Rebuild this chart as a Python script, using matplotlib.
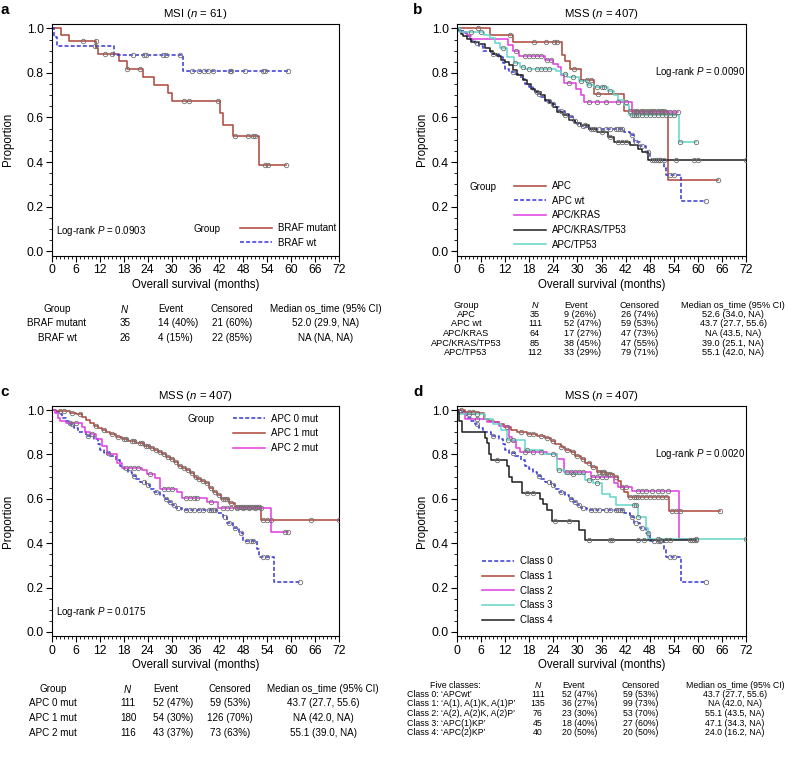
import numpy as np
import matplotlib
matplotlib.use('Agg')
import matplotlib.pyplot as plt
from matplotlib.ticker import MultipleLocator, FormatStrFormatter

plt.rcParams['font.family'] = ['Liberation Sans', 'DejaVu Sans']
plt.rcParams['mathtext.fontset'] = 'custom'
plt.rcParams['mathtext.it'] = 'Liberation Sans:italic'
plt.rcParams['mathtext.rm'] = 'Liberation Sans'

RED = '#ad4439'
BLUE = '#3535d5'
MAG = '#e03ce0'
CYAN = '#62d6c8'
BLACK = '#1e1e1e'

# ---- panel a : MSI
braf_mut_t = [2.3, 4.2, 11.1, 11.5, 16.8, 18.8, 22.9, 25.7, 29.2, 30.0, 42.1, 42.8, 45.5, 51.9]
braf_mut_s = [0.971, 0.943, 0.914, 0.886, 0.853, 0.817, 0.783, 0.745, 0.708, 0.672, 0.621, 0.566, 0.515, 0.386]
braf_mut_c = [7.9, 11.0, 13.2, 15.0, 18.9, 22.1, 33.2, 34.4, 41.7, 45.9, 49.2, 50.3, 50.9, 53.5, 54.2, 58.6]
braf_wt_t = [0.4, 1.2, 15.6, 32.8]
braf_wt_s = [0.962, 0.923, 0.88, 0.81]
braf_wt_c = [10.8, 20.3, 23.2, 23.6, 27.9, 28.5, 32.1, 35.0, 37.0, 38.1, 39.2, 40.5, 44.6, 45.0, 48.4,
             53.0, 53.4, 59.2]

# ---- APC wt (= APC 0 mut = Class 0)
apcwt_t = [1.0, 2.0, 2.5, 3.5, 4.5, 5.5, 6.5, 8.5, 10.5, 11.5, 12.0, 13.0, 14.5, 16.0, 17.0, 18.0, 19.0,
           20.0, 21.0, 22.0, 23.5, 24.5, 25.5, 27.0, 28.0, 29.0, 30.0, 31.0, 32.5, 41.5, 43.0, 44.0, 45.5,
           47.0, 48.0, 51.5, 52.0, 55.8]
apcwt_s = [0.99, 0.98, 0.965, 0.95, 0.935, 0.92, 0.9, 0.885, 0.87, 0.845, 0.82, 0.805, 0.795, 0.775, 0.75,
           0.735, 0.72, 0.705, 0.69, 0.675, 0.66, 0.645, 0.63, 0.615, 0.6, 0.585, 0.57, 0.56, 0.55, 0.535,
           0.52, 0.49, 0.47, 0.445, 0.41, 0.375, 0.34, 0.225]
apcwt_c = [5.0, 9.0, 14.0, 20.5, 23.0, 24.0, 26.0, 28.5, 29.5, 30.5, 31.5, 33.5, 34.5, 35.5, 37.0, 38.0,
           39.5, 40.0, 40.5, 41.0, 43.5, 44.5, 46.0, 47.5, 49.0, 50.0, 50.5, 53.0, 54.0, 62.1]

# ---- panel b : MSS by group
apc_t = [8.3, 14.0, 26.2, 26.8, 28.2, 31.0, 34.2, 41.5, 52.6]
apc_s = [0.971, 0.941, 0.882, 0.853, 0.82, 0.77, 0.706, 0.628, 0.318]
apc_c = [5.2, 13.3, 19.2, 22.1, 24.1, 25.0, 29.1, 32.5, 33.3, 35.1, 43.0, 44.1, 44.8, 45.8, 46.6, 47.5,
         48.3, 49.2, 50.0, 50.8, 51.6, 65.1]
kras_t = [0.8, 2.5, 3.3, 12.7, 14.0, 15.5, 22.0, 24.0, 25.2, 26.0, 26.7, 29.6, 31.0, 31.6, 43.7]
kras_s = [0.985, 0.969, 0.953, 0.924, 0.9, 0.874, 0.858, 0.842, 0.825, 0.79, 0.755, 0.73, 0.7, 0.67, 0.625]
kras_c = [14.8, 17.0, 18.0, 19.0, 20.0, 21.0, 22.5, 23.3, 28.0, 33.0, 35.0, 37.0, 40.0, 42.0, 44.5, 46.0,
          47.0, 48.0, 49.0, 50.0, 51.0, 52.0, 53.0, 54.0, 55.0]
krtp_t = [0.5, 1.0, 1.5, 2.5, 3.5, 5.5, 7.0, 8.3, 9.0, 10.0, 11.0, 12.0, 13.0, 14.0, 15.0, 16.5, 17.5,
          18.5, 19.5, 21.0, 22.0, 23.0, 24.0, 25.0, 26.5, 28.0, 29.5, 31.0, 33.0, 35.0, 37.5, 39.0, 43.0,
          45.0, 46.0, 47.5]
krtp_s = [0.988, 0.976, 0.965, 0.953, 0.94, 0.93, 0.91, 0.9, 0.887, 0.875, 0.86, 0.85, 0.835, 0.815, 0.79,
          0.77, 0.75, 0.73, 0.715, 0.7, 0.68, 0.663, 0.645, 0.625, 0.61, 0.59, 0.575, 0.565, 0.55, 0.535,
          0.513, 0.49, 0.475, 0.46, 0.445, 0.41]
krtp_c = [20.0, 27.0, 32.0, 34.0, 36.0, 38.0, 40.0, 41.0, 42.0, 48.5, 49.5, 50.5, 51.5, 54.5, 59.0, 60.0, 72.0]
tp53_t = [0.8, 6.7, 8.3, 9.5, 10.8, 12.5, 14.2, 15.8, 17.0, 24.6, 25.8, 27.5, 30.4, 32.5, 34.1, 37.5, 39.1,
          40.0, 41.6, 42.8, 55.4]
tp53_s = [0.985, 0.97, 0.955, 0.935, 0.91, 0.87, 0.843, 0.828, 0.82, 0.81, 0.795, 0.78, 0.765, 0.745, 0.735,
          0.72, 0.7, 0.68, 0.655, 0.61, 0.49]
tp53_c = [3.5, 6.0, 11.5, 14.5, 16.5, 18.0, 20.0, 21.0, 22.0, 23.0, 27.0, 29.0, 31.0, 33.0, 35.0, 36.0,
          36.5, 38.0, 43.5, 44.0, 44.5, 45.0, 46.0, 47.0, 48.0, 49.0, 50.0, 51.0, 52.0, 53.0, 54.0, 55.5, 59.5]

# ---- panel c : APC mutation count
apc1_t = [1.0, 4.5, 6.0, 7.5, 8.5, 9.5, 10.5, 11.5, 12.5, 13.5, 14.5, 16.0, 17.5, 19.0, 21.0, 23.0, 24.5,
          25.5, 26.5, 27.5, 28.5, 29.5, 30.5, 31.5, 32.5, 33.5, 34.5, 35.5, 36.5, 37.5, 38.5, 39.5, 40.5,
          41.5, 42.5, 44.5, 46.0, 52.5]
apc1_s = [0.994, 0.988, 0.98, 0.97, 0.955, 0.94, 0.93, 0.92, 0.91, 0.9, 0.89, 0.88, 0.87, 0.86, 0.85, 0.84,
          0.83, 0.82, 0.81, 0.8, 0.79, 0.78, 0.765, 0.75, 0.74, 0.73, 0.715, 0.7, 0.69, 0.68, 0.67, 0.65,
          0.63, 0.615, 0.6, 0.58, 0.565, 0.505]
apc1_c = [2.0, 3.0, 5.0, 7.0, 11.0, 13.0, 15.0, 16.5, 18.0, 18.5, 20.0, 20.5, 22.0, 22.5, 23.5, 24.0, 25.0,
          26.0, 27.0, 28.0, 29.0, 30.0, 31.0, 32.0, 33.0, 34.0, 35.0, 36.0, 37.0, 38.0, 39.0, 40.0, 41.0,
          42.0, 43.0, 43.5, 44.0, 45.0, 46.5, 47.0, 47.5, 48.0, 48.5, 49.0, 49.5, 50.0, 50.5, 51.0, 51.5,
          52.0, 53.0, 54.0, 55.0, 65.0, 72.0]
apc2_t = [0.8, 1.5, 2.1, 3.5, 7.5, 8.3, 9.6, 11.0, 12.5, 13.8, 16.3, 17.5, 22.5, 23.8, 25.9, 27.1, 31.3,
          32.5, 38.8, 41.7, 55.0]
apc2_s = [0.985, 0.965, 0.95, 0.94, 0.925, 0.9, 0.89, 0.87, 0.84, 0.8, 0.76, 0.74, 0.73, 0.71, 0.695, 0.645,
          0.63, 0.605, 0.585, 0.56, 0.45]
apc2_c = [4.5, 6.0, 10.0, 18.5, 19.5, 20.5, 21.5, 24.5, 28.0, 29.0, 30.0, 33.5, 34.5, 35.5, 36.5, 40.0,
          43.0, 44.0, 45.0, 46.5, 48.0, 49.5, 51.0, 52.5, 58.5, 59.2]

# ---- panel d : five classes
cl1_t = [2.0, 5.4, 6.7, 8.0, 9.2, 10.5, 11.7, 13.5, 15.0, 17.5, 20.0, 22.0, 23.3, 24.5, 25.8, 27.0, 28.3,
         29.5, 30.8, 32.0, 33.3, 35.0, 37.0, 39.1, 40.0, 40.8, 41.7, 42.5, 52.7]
cl1_s = [0.993, 0.985, 0.96, 0.952, 0.945, 0.935, 0.925, 0.912, 0.9, 0.89, 0.885, 0.872, 0.86, 0.848, 0.835,
         0.822, 0.81, 0.795, 0.78, 0.762, 0.745, 0.72, 0.71, 0.7, 0.68, 0.655, 0.63, 0.61, 0.545]
cl1_c = [1.0, 3.0, 4.0, 12.5, 16.0, 18.0, 19.0, 21.0, 22.5, 24.0, 26.0, 27.5, 29.0, 30.0, 31.5, 33.0, 34.0,
         35.5, 36.0, 36.5, 37.5, 38.0, 39.5, 43.0, 44.0, 44.5, 45.0, 46.0, 47.0, 48.0, 49.0, 50.0, 51.0,
         52.0, 53.5, 54.5, 55.5, 65.4]
cl2_t = [0.5, 2.0, 7.5, 10.5, 12.9, 13.6, 14.6, 15.8, 22.5, 25.0, 26.6, 33.3, 39.1, 40.0, 43.7, 55.4]
cl2_s = [0.985, 0.96, 0.945, 0.93, 0.88, 0.86, 0.83, 0.81, 0.8, 0.78, 0.72, 0.7, 0.67, 0.655, 0.635, 0.42]
cl2_c = [5.0, 17.0, 19.0, 21.0, 24.0, 27.5, 28.5, 29.5, 30.5, 31.5, 34.0, 35.0, 36.0, 37.0, 41.0, 42.0,
         45.0, 46.0, 47.0, 48.5, 50.0, 51.0, 52.5, 59.5]
cl3_t = [0.5, 7.0, 9.0, 11.0, 12.5, 17.0, 21.5, 25.0, 27.0, 32.0, 34.0, 36.0, 38.0, 39.5, 45.0, 47.0, 47.5]
cl3_s = [0.98, 0.96, 0.935, 0.91, 0.865, 0.82, 0.8, 0.73, 0.71, 0.685, 0.67, 0.62, 0.61, 0.57, 0.52, 0.47,
         0.42]
cl3_c = [3.0, 5.0, 12.8, 14.0, 17.5, 25.5, 29.0, 33.0, 35.0, 44.0, 44.5, 45.0, 50.0, 72.0]
cl4_t = [0.5, 1.3, 7.0, 7.5, 8.0, 8.5, 12.5, 13.0, 13.6, 16.2, 20.7, 21.5, 22.4, 23.7, 30.4, 32.0]
cl4_s = [0.95, 0.9, 0.875, 0.85, 0.8, 0.775, 0.75, 0.7, 0.675, 0.625, 0.6, 0.575, 0.55, 0.5, 0.46, 0.415]
cl4_c = [10.0, 17.5, 19.0, 24.5, 28.0, 33.0, 38.0, 38.5, 45.0, 46.5, 50.5, 52.0, 53.0, 58.0, 58.5, 59.0, 59.5]

# ---- tables
tab_a_groups = ['BRAF mutant', 'BRAF wt']
tab_a_n = ['35', '26']
tab_a_event = ['14 (40%)', '4 (15%)']
tab_a_cens = ['21 (60%)', '22 (85%)']
tab_a_med = ['52.0 (29.9, NA)', 'NA (NA, NA)']

tab_b_groups = ['APC', 'APC wt', 'APC/KRAS', 'APC/KRAS/TP53', 'APC/TP53']
tab_b_n = ['35', '111', '64', '85', '112']
tab_b_event = ['9 (26%)', '52 (47%)', '17 (27%)', '38 (45%)', '33 (29%)']
tab_b_cens = ['26 (74%)', '59 (53%)', '47 (73%)', '47 (55%)', '79 (71%)']
tab_b_med = ['52.6 (34.0, NA)', '43.7 (27.7, 55.6)', 'NA (43.5, NA)', '39.0 (25.1, NA)', '55.1 (42.0, NA)']

tab_c_groups = ['APC 0 mut', 'APC 1 mut', 'APC 2 mut']
tab_c_n = ['111', '180', '116']
tab_c_event = ['52 (47%)', '54 (30%)', '43 (37%)']
tab_c_cens = ['59 (53%)', '126 (70%)', '73 (63%)']
tab_c_med = ['43.7 (27.7, 55.6)', 'NA (42.0, NA)', '55.1 (39.0, NA)']

tab_d_groups = ["Class 0: \u2018APCwt\u2019", "Class 1: \u2018A(1), A(1)K, A(1)P\u2019",
                "Class 2: \u2018A(2), A(2)K, A(2)P\u2019", "Class 3: \u2018APC(1)KP\u2019",
                "Class 4: \u2018APC(2)KP\u2019"]
tab_d_n = ['111', '135', '76', '45', '40']
tab_d_event = ['52 (47%)', '36 (27%)', '23 (30%)', '18 (40%)', '20 (50%)']
tab_d_cens = ['59 (53%)', '99 (73%)', '53 (70%)', '27 (60%)', '20 (50%)']
tab_d_med = ['43.7 (27.7, 55.6)', 'NA (42.0, NA)', '55.1 (43.5, NA)', '47.1 (34.3, NA)', '24.0 (16.2, NA)']

W, H = 788, 758
fig = plt.figure(figsize=(W / 100, H / 100), dpi=100)


def px(x, y):
    return x / W, 1 - y / H


def km(ax, t, s, cens, end, color, label, dashed=False):
    times = np.r_[0, t, end]
    surv = np.r_[1, s, s[-1]]
    ls = (0, (2.6, 1.4)) if dashed else '-'
    ax.step(times, surv, where='post', color=color, lw=1.1, ls=ls, label=label)
    idx = np.searchsorted(times[:-1], cens, side='right') - 1
    ax.plot(cens, surv[idx], 'o', ms=3.2, mfc='none', mec='#707070', mew=0.6, zorder=3)


def make_axes(left, top_px, bot_px, width):
    ax = fig.add_axes([left / W, 1 - bot_px / H, width / W, (bot_px - top_px) / H])
    ax.set_xlim(0, 72)
    ax.set_ylim(-0.02, 1.02)
    ax.xaxis.set_major_locator(MultipleLocator(6))
    ax.xaxis.set_minor_locator(MultipleLocator(1))
    ax.yaxis.set_major_locator(MultipleLocator(0.2))
    ax.yaxis.set_minor_locator(MultipleLocator(0.05))
    ax.yaxis.set_major_formatter(FormatStrFormatter('%.1f'))
    ax.tick_params(which='major', length=4, width=0.8, labelsize=8.8, pad=2)
    ax.tick_params(which='minor', length=2, width=0.6)
    for sp in ax.spines.values():
        sp.set_linewidth(0.8)
    return ax


def decorate(cx, top_px, bot_px, ylab_x, letter, lx, ly, title):
    fig.text(*px(cx, top_px - 10), title, ha='center', va='center', fontsize=8.2)
    fig.text(*px(cx, bot_px + 29), 'Overall survival (months)', ha='center', va='center', fontsize=8.3)
    fig.text(*px(ylab_x, (top_px + bot_px) / 2), 'Proportion', rotation=90, ha='center', va='center',
             fontsize=8.3)
    fig.text(*px(lx, ly), letter, fontsize=11, fontweight='bold', ha='center', va='center')


def table(gx, nx, ex, cx, mx, ys, header, rows, fs, group_left=None):
    fig.text(*px(gx, ys[0]), header, ha='center', va='center', fontsize=fs)
    fig.text(*px(nx, ys[0]), '$N$', ha='center', va='center', fontsize=fs)
    fig.text(*px(ex, ys[0]), 'Event', ha='left', va='center', fontsize=fs)
    fig.text(*px(cx, ys[0]), 'Censored', ha='center', va='center', fontsize=fs)
    fig.text(*px(mx, ys[0]), 'Median os_time (95% CI)', ha='center', va='center', fontsize=fs)
    groups, ns, evs, cens, meds = rows
    for i, y in enumerate(ys[1:]):
        if group_left is None:
            fig.text(*px(gx, y), groups[i], ha='center', va='center', fontsize=fs)
        else:
            fig.text(*px(group_left, y), groups[i], ha='left', va='center', fontsize=fs)
        fig.text(*px(nx, y), ns[i], ha='center', va='center', fontsize=fs)
        fig.text(*px(ex, y), evs[i], ha='left', va='center', fontsize=fs)
        fig.text(*px(cx, y), cens[i], ha='center', va='center', fontsize=fs)
        fig.text(*px(mx, y), meds[i], ha='center', va='center', fontsize=fs)


leg_kw = dict(frameon=False, fontsize=7.0, handlelength=3.3, handletextpad=0.6, labelspacing=0.48,
              borderpad=0, borderaxespad=0, loc='upper left')
TXT = 7.0

# ---------- a
ax = make_axes(52, 24, 255.5, 287)
km(ax, braf_mut_t, braf_mut_s, braf_mut_c, 58.6, RED, 'BRAF mutant')
km(ax, braf_wt_t, braf_wt_s, braf_wt_c, 59.2, BLUE, 'BRAF wt', dashed=True)
ax.legend(bbox_to_anchor=(0.655, 0.14), **leg_kw)
fig.text(*px(193, 229), 'Group', ha='left', va='center', fontsize=TXT)
fig.text(*px(56, 231), 'Log-rank $P$ = 0.0903', ha='left', va='center', fontsize=TXT)
decorate(195.5, 24, 255.5, 8, 'a', 4.5, 10, 'MSI ($n$ = 61)')
table(57, 125, 158, 232, 326, [309, 323, 338], 'Group',
      [tab_a_groups, tab_a_n, tab_a_event, tab_a_cens, tab_a_med], 7.1)

# ---------- b
ax = make_axes(457, 24, 255.5, 289)
km(ax, apc_t, apc_s, apc_c, 65.1, RED, 'APC')
km(ax, apcwt_t, apcwt_s, apcwt_c, 62.1, BLUE, 'APC wt', dashed=True)
km(ax, kras_t, kras_s, kras_c, 55.0, MAG, 'APC/KRAS')
km(ax, krtp_t, krtp_s, krtp_c, 72.0, BLACK, 'APC/KRAS/TP53')
km(ax, tp53_t, tp53_s, tp53_c, 59.5, CYAN, 'APC/TP53')
ax.legend(bbox_to_anchor=(0.197, 0.322), **leg_kw)
fig.text(*px(470, 187), 'Group', ha='left', va='center', fontsize=TXT)
fig.text(*px(655, 72), 'Log-rank $P$ = 0.0090', ha='left', va='center', fontsize=TXT)
decorate(601.5, 24, 255.5, 422, 'b', 418, 10, 'MSS ($n$ = 407)')
table(466, 535, 564, 640, 733, [305, 314.5, 324, 333.5, 343, 352.5], 'Group',
      [tab_b_groups, tab_b_n, tab_b_event, tab_b_cens, tab_b_med], 6.6)

# ---------- c
ax = make_axes(52, 405.6, 636.4, 287)
km(ax, apcwt_t, apcwt_s, apcwt_c, 62.1, BLUE, 'APC 0 mut', dashed=True)
km(ax, apc1_t, apc1_s, apc1_c, 72.0, RED, 'APC 1 mut')
km(ax, apc2_t, apc2_s, apc2_c, 59.2, MAG, 'APC 2 mut')
ax.legend(bbox_to_anchor=(0.631, 0.965), **leg_kw)
fig.text(*px(187, 419), 'Group', ha='left', va='center', fontsize=TXT)
fig.text(*px(56, 612), 'Log-rank $P$ = 0.0175', ha='left', va='center', fontsize=TXT)
decorate(195.5, 405.6, 636.4, 8, 'c', 4.5, 392, 'MSS ($n$ = 407)')
table(53, 128, 153, 230, 323, [689, 703, 718, 733], 'Group',
      [tab_c_groups, tab_c_n, tab_c_event, tab_c_cens, tab_c_med], 7.1)

# ---------- d
ax = make_axes(457, 405.6, 636.4, 289)
km(ax, apcwt_t, apcwt_s, apcwt_c, 62.1, BLUE, 'Class 0', dashed=True)
km(ax, cl1_t, cl1_s, cl1_c, 65.4, RED, 'Class 1')
km(ax, cl2_t, cl2_s, cl2_c, 59.5, MAG, 'Class 2')
km(ax, cl3_t, cl3_s, cl3_c, 72.0, CYAN, 'Class 3')
km(ax, cl4_t, cl4_s, cl4_c, 59.5, BLACK, 'Class 4')
ax.legend(bbox_to_anchor=(0.087, 0.347), **leg_kw)
fig.text(*px(655, 454), 'Log-rank $P$ = 0.0020', ha='left', va='center', fontsize=TXT)
decorate(601.5, 405.6, 636.4, 422, 'd', 418, 392, 'MSS ($n$ = 407)')
table(455, 538, 562, 641, 735, [685, 694.5, 704, 713.5, 723, 732.5], 'Five classes:',
      [tab_d_groups, tab_d_n, tab_d_event, tab_d_cens, tab_d_med], 6.3, group_left=407)

fig.savefig('out.png', dpi=100)
